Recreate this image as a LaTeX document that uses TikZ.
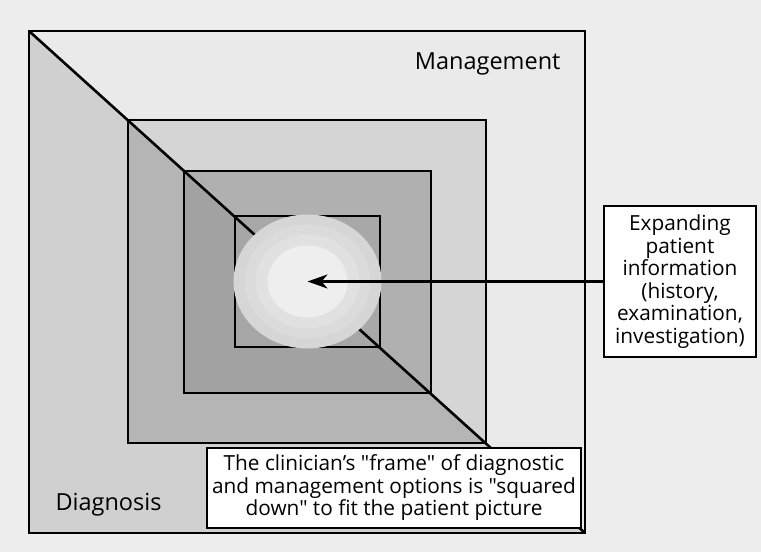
\documentclass[tikz,border=0pt]{standalone}
\usepackage{fontspec}
\setmainfont{Open Sans}[Ligatures=TeXOff]
\usetikzlibrary{arrows.meta,positioning}
\definecolor{backgr}{HTML}{EDEDED}
\definecolor{upA}{HTML}{EAEAEA}
\definecolor{loA}{HTML}{D0D0D0}
\definecolor{upB}{HTML}{D5D5D5}
\definecolor{loB}{HTML}{B5B5B5}
\definecolor{upC}{HTML}{B0B0B0}
\definecolor{loC}{HTML}{A2A2A2}
\definecolor{upD}{HTML}{A8A8A8}
\definecolor{loD}{HTML}{A6A6A6}
\definecolor{ringA}{HTML}{D6D6D6}
\definecolor{ringB}{HTML}{DBDBDB}
\definecolor{ringC}{HTML}{E1E1E1}
\definecolor{ringD}{HTML}{EEEEEE}
\tikzstyle{square}=[draw=black,line width=2.6pt]
\tikzstyle{zonetext}=[font=\fontsize{23.5}{27}\selectfont]
\tikzstyle{textbox}=[draw=black,line width=2.6pt,fill=white,align=center,inner sep=0pt,font=\fontsize{20.8}{22.5}\selectfont]
\tikzstyle{edge}=[draw,line width=2.4pt,-{Stealth[length=20pt,width=14pt,inset=6pt]}]

\begin{document}
\begin{tikzpicture}[x=1pt, y=-1pt]

  \useasboundingbox (0,0) rectangle (761,552);
  \fill[backgr] (0,0) rectangle (761,552);

  % nested frames, light above the diagonal and dark below it
  \foreach \l/\t/\r/\b/\up/\lo in {29/31/585/533/upA/loA, 128/120/486/443/upB/loB,
                                    184/171/431/393/upC/loC, 235/216/380/347/upD/loD} {
    \fill[\up] (\l,\t) rectangle (\r,\b);
    \fill[\lo] (\l,\t) -- (\l,\b) -- (\r,\b) -- cycle;
    \draw[square] (\l,\t) rectangle (\r,\b);
  }

  \coordinate (tl) at (29,31);
  \coordinate (br) at (585,533);
  \draw[square] (tl) -- (br);

  % patient picture
  \coordinate (core) at (307.5,281.5);
  \foreach \rx/\ry/\c in {74/67/ringA, 63/57/ringB, 52/47/ringC, 40/36/ringD}
    \fill[\c] (core) ellipse [x radius=\rx, y radius=\ry];

  \node[zonetext, anchor=base east] (mgmt) at (564,69) {Management};
  \node[zonetext, anchor=base west] (diag) at (52,510) {Diagnosis};

  \node[textbox, minimum width=152, minimum height=151] (info) at (680,281.5)
       {Expanding\\patient\\information\\(history,\\examination,\\investigation)};
  \node[textbox, minimum width=374, minimum height=80] (frame) at (394,488)
       {The clinician’s "frame" of diagnostic\\and management options is "squared\\down" to fit the patient picture};

  \draw[edge] (info.west) -- (core);

\end{tikzpicture}
\end{document}
